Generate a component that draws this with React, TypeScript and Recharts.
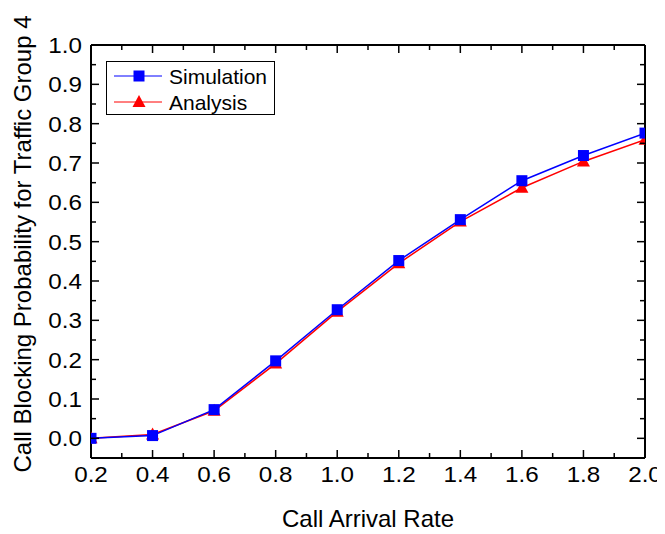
import { LineChart, Line, XAxis, YAxis, ReferenceLine, Legend } from 'recharts';

// call arrival rate
const rates = [0.2, 0.4, 0.6, 0.8, 1.0, 1.2, 1.4, 1.6, 1.8, 2.0];
// blocking probability for traffic group 4
const simulation = [0.0, 0.007, 0.073, 0.197, 0.327, 0.452, 0.556, 0.655, 0.719, 0.776];
const analysis = [0.0, 0.01, 0.07, 0.19, 0.322, 0.445, 0.551, 0.637, 0.704, 0.759];

const xTicks = [0.2, 0.3, 0.4, 0.5, 0.6, 0.7, 0.8, 0.9, 1.0, 1.1, 1.2, 1.3, 1.4, 1.5, 1.6, 1.7, 1.8, 1.9, 2.0];
const yTicks = [0, 0.05, 0.1, 0.15, 0.2, 0.25, 0.3, 0.35, 0.4, 0.45, 0.5, 0.55, 0.6, 0.65, 0.7, 0.75, 0.8, 0.85, 0.9, 0.95, 1.0];

const data = rates.map((r, i) => ({ rate: r, sim: simulation[i], ana: analysis[i] }));

const FONT = "'Liberation Sans', Arial, Helvetica, sans-serif";
const WIDTH = 657;
const HEIGHT = 526;
const MARGIN = { top: 37, right: 20, bottom: 6, left: 0 };
const Y_AXIS_W = 83;
const X_AXIS_H = 70;
const PLOT_W = WIDTH - MARGIN.left - MARGIN.right - Y_AXIS_W;
const PLOT_H = HEIGHT - MARGIN.top - MARGIN.bottom - X_AXIS_H;
const MAJOR = 8;
const MINOR = 5;
const TICK_FONT = 22;
const STRETCH = 1.1; // the original figure is a bit wider than tall

const XTick = (props: any) => {
  const { x, y, payload } = props;
  const v = payload.value;
  const major = Math.round(v * 10) % 2 === 0;
  const len = major ? MAJOR : MINOR;
  return (
    <g>
      <line x1={x} x2={x} y1={y} y2={y - len} stroke="#000" strokeWidth={1.5} />
      <line x1={x} x2={x} y1={y - PLOT_H} y2={y - PLOT_H + len} stroke="#000" strokeWidth={1.5} />
      {major && (
        <g transform={`translate(${x},${y + 24}) scale(${STRETCH},1)`}>
          <text x={0} y={0} textAnchor="middle" fontFamily={FONT} fontSize={TICK_FONT} fill="#000">
            {v.toFixed(1)}
          </text>
        </g>
      )}
    </g>
  );
};

const YTick = (props: any) => {
  const { x, y, payload } = props;
  const v = payload.value;
  const major = Math.round(v * 100) % 10 === 0;
  const len = major ? MAJOR : MINOR;
  return (
    <g>
      <line x1={x} x2={x + len} y1={y} y2={y} stroke="#000" strokeWidth={1.5} />
      <line x1={x + PLOT_W} x2={x + PLOT_W - len} y1={y} y2={y} stroke="#000" strokeWidth={1.5} />
      {major && (
        <g transform={`translate(${x - 9},${y + 8}) scale(${STRETCH},1)`}>
          <text x={0} y={0} textAnchor="end" fontFamily={FONT} fontSize={TICK_FONT} fill="#000">
            {v.toFixed(1)}
          </text>
        </g>
      )}
    </g>
  );
};

const Square = (props: any) => {
  const { cx, cy } = props;
  if (cx == null || cy == null) return null;
  return <rect x={cx - 5.5} y={cy - 5.5} width={11} height={11} fill="#0000FF" />;
};

const Triangle = (props: any) => {
  const { cx, cy } = props;
  if (cx == null || cy == null) return null;
  return <polygon points={`${cx},${cy - 7} ${cx - 6.5},${cy + 5} ${cx + 6.5},${cy + 5}`} fill="#FF0000" />;
};

const LegendBox = () => (
  <svg width={169} height={54} style={{ display: 'block' }}>
    <rect x={0.5} y={0.5} width={168} height={53} fill="#fff" stroke="#000" strokeWidth={1} />
    <line x1={8} x2={56} y1={15} y2={15} stroke="#0000FF" strokeWidth={1} />
    <rect x={27.5} y={9.5} width={11} height={11} fill="#0000FF" />
    <text x={63} y={15} dy={7.5} fontFamily={FONT} fontSize={21} fill="#000">Simulation</text>
    <line x1={8} x2={56} y1={41} y2={41} stroke="#FF0000" strokeWidth={1} />
    <polygon points="33,34 26.5,46 39.5,46" fill="#FF0000" />
    <text x={63} y={41} dy={7.5} fontFamily={FONT} fontSize={21} fill="#000">Analysis</text>
  </svg>
);

export default function App() {
  return (
    <LineChart width={WIDTH} height={HEIGHT} data={data} margin={MARGIN}>
      <XAxis
        dataKey="rate"
        type="number"
        domain={[0.2, 2.0]}
        allowDataOverflow
        ticks={xTicks}
        interval={0}
        tick={<XTick />}
        tickLine={false}
        tickSize={0}
        tickMargin={0}
        height={X_AXIS_H}
        axisLine={{ stroke: '#000', strokeWidth: 2 }}
        label={(p: any) => {
          const vb = p.viewBox;
          return (
            <text x={vb.x + vb.width / 2} y={vb.y + 69} textAnchor="middle" fontFamily={FONT} fontSize={24} fill="#000">
              Call Arrival Rate
            </text>
          );
        }}
      />
      <YAxis
        type="number"
        domain={[-0.05, 1.0]}
        allowDataOverflow
        ticks={yTicks}
        interval={0}
        tick={<YTick />}
        tickLine={false}
        tickSize={0}
        tickMargin={0}
        width={Y_AXIS_W}
        axisLine={{ stroke: '#000', strokeWidth: 2 }}
        label={() => (
          <text x={23} y={236} transform="rotate(-90 23 236)" textAnchor="middle" fontFamily={FONT} fontSize={24} fill="#000">
            Call Blocking Probability for Traffic Group 4
          </text>
        )}
      />
      <ReferenceLine y={1.0} stroke="#000" strokeWidth={2} />
      <ReferenceLine x={2.0} stroke="#000" strokeWidth={2} />
      <Legend
        layout="horizontal"
        verticalAlign="middle"
        align="center"
        content={() => <LegendBox />}
        wrapperStyle={{ position: 'absolute', left: 98, top: 53, width: 169, height: 54 }}
      />
      <Line dataKey="ana" name="Analysis" stroke="#FF0000" strokeWidth={1.5} dot={<Triangle />} isAnimationActive={false} />
      <Line dataKey="sim" name="Simulation" stroke="#0000FF" strokeWidth={1.5} dot={<Square />} isAnimationActive={false} />
    </LineChart>
  );
}
